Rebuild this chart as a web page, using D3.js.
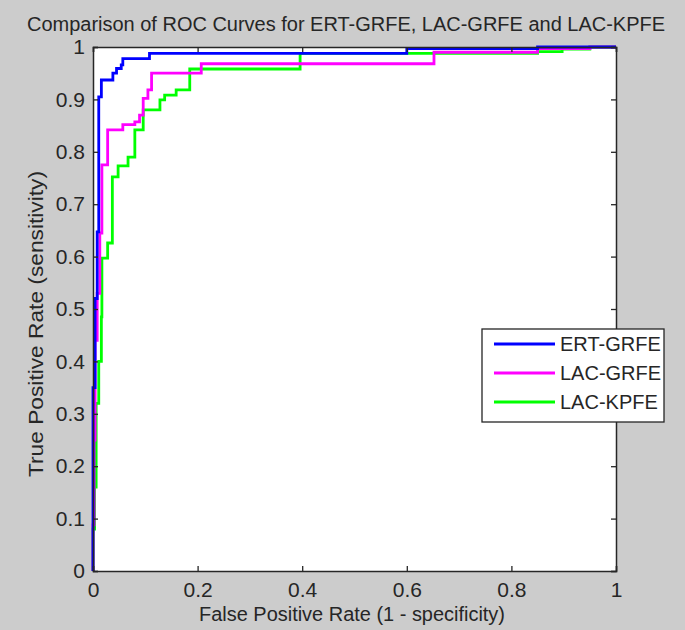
<html>
<head>
<script src="https://d3js.org/d3.v7.min.js"></script>
<style>
  body { margin: 0; background: #cccccc; }
  text { font-family: "Liberation Sans", Arial, sans-serif; fill: #262626; }
</style>
</head>
<body>
<script>
// ROC points (false positive rate, true positive rate)
var ertFpr = [0, 0, 0.004, 0.004, 0.008, 0.008, 0.011, 0.011, 0.016, 0.016, 0.038, 0.038, 0.045, 0.045, 0.054, 0.054, 0.057, 0.057, 0.108, 0.108, 0.60, 0.60, 0.85, 0.85, 1];
var ertTpr = [0, 0.35, 0.35, 0.52, 0.52, 0.647, 0.647, 0.905, 0.905, 0.937, 0.937, 0.95, 0.95, 0.959, 0.959, 0.966, 0.966, 0.978, 0.978, 0.988, 0.988, 0.997, 0.997, 1, 1];

var lgrFpr = [0, 0, 0.002, 0.002, 0.004, 0.004, 0.008, 0.008, 0.013, 0.013, 0.017, 0.017, 0.028, 0.028, 0.057, 0.057, 0.080, 0.080, 0.089, 0.089, 0.096, 0.096, 0.105, 0.105, 0.112, 0.112, 0.207, 0.207, 0.652, 0.652, 0.85, 0.85, 0.95, 0.95, 1];
var lgrTpr = [0, 0.088, 0.088, 0.25, 0.25, 0.44, 0.44, 0.53, 0.53, 0.645, 0.645, 0.775, 0.775, 0.842, 0.842, 0.852, 0.852, 0.857, 0.857, 0.87, 0.87, 0.902, 0.902, 0.918, 0.918, 0.95, 0.95, 0.968, 0.968, 0.99, 0.99, 0.997, 0.997, 1, 1];

var lkpFpr = [0, 0, 0.003, 0.003, 0.006, 0.006, 0.011, 0.011, 0.016, 0.016, 0.017, 0.017, 0.028, 0.028, 0.037, 0.037, 0.048, 0.048, 0.067, 0.067, 0.080, 0.080, 0.096, 0.096, 0.128, 0.128, 0.137, 0.137, 0.159, 0.159, 0.185, 0.185, 0.396, 0.396, 0.85, 0.85, 0.897, 0.897, 0.95, 0.95, 1];
var lkpTpr = [0, 0.08, 0.08, 0.16, 0.16, 0.32, 0.32, 0.40, 0.40, 0.485, 0.485, 0.597, 0.597, 0.626, 0.626, 0.752, 0.752, 0.773, 0.773, 0.79, 0.79, 0.842, 0.842, 0.88, 0.88, 0.899, 0.899, 0.908, 0.908, 0.918, 0.918, 0.958, 0.958, 0.988, 0.988, 0.991, 0.991, 0.996, 0.996, 1, 1];

var seriesNames = ["ERT-GRFE", "LAC-GRFE", "LAC-KPFE"];
var seriesColors = ["#0000ff", "#ff00ff", "#00ff00"];
var xTicks = [0, 0.2, 0.4, 0.6, 0.8, 1];
var yTicks = [0, 0.1, 0.2, 0.3, 0.4, 0.5, 0.6, 0.7, 0.8, 0.9, 1];

var W = 685, H = 630;
var margin = {top: 47, right: 69, bottom: 59, left: 93};
var width = W - margin.left - margin.right,
    height = H - margin.top - margin.bottom;

var svg = d3.select("body").append("svg")
    .attr("width", W)
    .attr("height", H);

svg.append("rect").attr("width", W).attr("height", H).attr("fill", "#cccccc");

var g = svg.append("g")
    .attr("transform", "translate(" + margin.left + "," + margin.top + ")");

var x = d3.scaleLinear().domain([0, 1]).range([0, width]);
var y = d3.scaleLinear().domain([0, 1]).range([height, 0]);

g.append("rect").attr("width", width).attr("height", height).attr("fill", "#ffffff");

// curves
var line = d3.line()
    .x(function(d){ return x(d[0]); })
    .y(function(d){ return y(d[1]); });

var series = [
  d3.zip(ertFpr, ertTpr),
  d3.zip(lgrFpr, lgrTpr),
  d3.zip(lkpFpr, lkpTpr)
];

// green first, blue last
[2, 1, 0].forEach(function(i){
  g.append("path")
    .datum(series[i])
    .attr("fill", "none")
    .attr("stroke", seriesColors[i])
    .attr("stroke-width", 2.8)
    .attr("d", line);
});

// axes, ticks inward on all four sides
var axisColor = "#262626";
g.append("g")
  .attr("transform", "translate(0," + height + ")")
  .call(d3.axisBottom(x).tickValues(xTicks).tickSize(-5).tickPadding(11).tickFormat(d3.format("")));
g.append("g")
  .call(d3.axisTop(x).tickValues(xTicks).tickSize(-5).tickFormat(""));
g.append("g")
  .call(d3.axisLeft(y).tickValues(yTicks).tickSize(-5).tickPadding(8).tickFormat(d3.format("")));
g.append("g")
  .attr("transform", "translate(" + width + ",0)")
  .call(d3.axisRight(y).tickValues(yTicks).tickSize(-5).tickFormat(""));

g.selectAll(".domain").attr("stroke", axisColor).attr("stroke-width", 1.5);
g.selectAll(".tick line").attr("stroke", axisColor).attr("stroke-width", 1.3);
g.selectAll(".tick text")
  .style("font-family", '"Liberation Sans", Arial, sans-serif')
  .style("font-size", "21px")
  .attr("fill", axisColor);

// title and labels
svg.append("text")
  .attr("x", 346)
  .attr("y", 31)
  .attr("text-anchor", "middle")
  .attr("textLength", 638)
  .attr("lengthAdjust", "spacingAndGlyphs")
  .style("font-size", "20px")
  .text("Comparison of ROC Curves for ERT-GRFE, LAC-GRFE and LAC-KPFE");

svg.append("text")
  .attr("x", 352)
  .attr("y", 621)
  .attr("text-anchor", "middle")
  .attr("textLength", 306)
  .attr("lengthAdjust", "spacingAndGlyphs")
  .style("font-size", "20px")
  .text("False Positive Rate (1 - specificity)");

svg.append("text")
  .attr("transform", "translate(43,324) rotate(-90)")
  .attr("text-anchor", "middle")
  .attr("textLength", 306)
  .attr("lengthAdjust", "spacingAndGlyphs")
  .style("font-size", "20px")
  .text("True Positive Rate (sensitivity)");

// legend
var leg = svg.append("g").attr("transform", "translate(482,329)");
leg.append("rect")
  .attr("width", 182).attr("height", 93)
  .attr("fill", "#ffffff")
  .attr("stroke", axisColor).attr("stroke-width", 1.3);
seriesNames.forEach(function(name, i){
  var yy = 15 + i * 29;
  leg.append("line")
    .attr("x1", 12).attr("x2", 73)
    .attr("y1", yy).attr("y2", yy)
    .attr("stroke", seriesColors[i]).attr("stroke-width", 2.8);
  leg.append("text")
    .attr("x", 78).attr("y", yy + 7)
    .style("font-size", "20px")
    .text(name);
});
</script>
</body>
</html>
